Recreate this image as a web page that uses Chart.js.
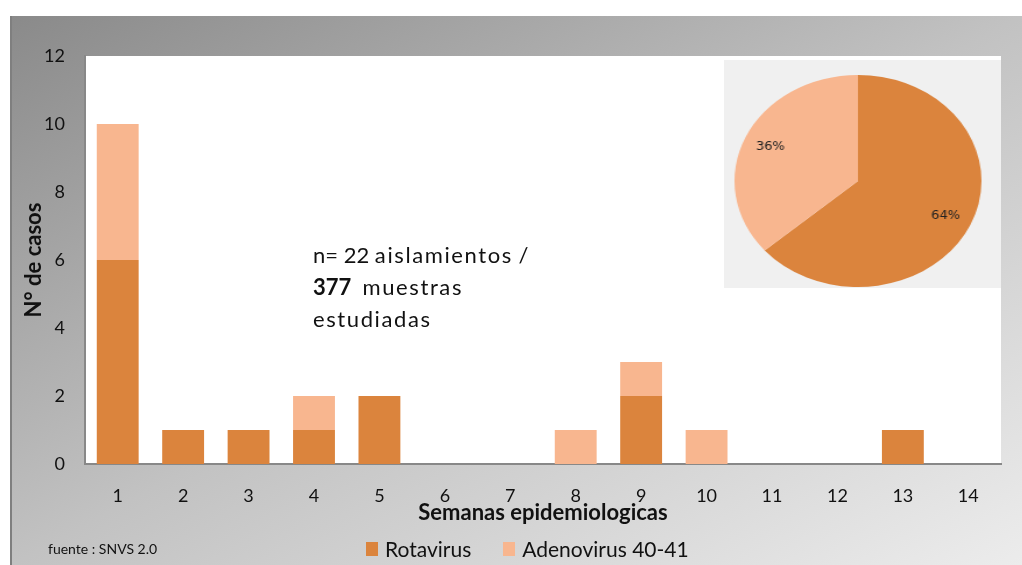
<!DOCTYPE html>
<html lang="es">
<head>
    <meta charset="UTF-8">
    <title>Rotavirus y Adenovirus por semana epidemiologica</title>
    <script src="https://cdn.jsdelivr.net/npm/chart.js"></script>
    <style>
        body { margin: 0; width: 1022px; height: 565px; position: relative; overflow: hidden; background: #fff; font-family: Lato, "Open Sans", sans-serif; color: #111; }
        .marco { position: absolute; left: 10px; top: 16px; width: 1012px; height: 549px; box-sizing: border-box;
                 background: linear-gradient(to bottom right, #8a8a8a 0%, #c2c2c2 50%, #ececec 100%);
                 border-left: 2px solid #7f7f7f; }
        #graficoSemanas { position: absolute; left: 0; top: 0; }
        .caja-torta { position: absolute; left: 724px; top: 60px; width: 277px; height: 228px; background: #f0f0f0; overflow: hidden; }
        .torta { position: absolute; left: 0; top: 0; width: 238px; height: 228px; transform: scaleX(1.165); transform-origin: 0 0; }
        .nota { position: absolute; left: 313px; top: 239px; font-size: 22px; line-height: 32px; }
        .nota .esp { letter-spacing: 1.6px; }
        .fuente { position: absolute; left: 48px; top: 540px; font-size: 14px; }
        .leyenda { position: absolute; left: 366px; top: 537px; display: flex; font-size: 21px; line-height: 24px; }
        .leyenda .item { display: flex; align-items: center; margin-right: 32px; }
        .leyenda .cuadro { width: 12px; height: 14px; margin-right: 7px; }
    </style>
</head>
<body>
    <div class="marco"></div>
    <canvas id="graficoSemanas" width="1022" height="565"></canvas>

    <!-- Torta con el total de cada virus -->
    <div class="caja-torta">
        <div class="torta"><canvas id="graficoTorta" width="238" height="228"></canvas></div>
    </div>

    <div class="nota">
        n= <span id="totalAislamientos"></span> <span class="esp">aislamientos</span> /<br>
        <b>377</b>&nbsp; <span class="esp">muestras</span><br>
        <span class="esp">estudiadas</span>
    </div>
    <div class="fuente">fuente : SNVS 2.0</div>
    <div class="leyenda" id="leyenda"></div>

    <script>
        // Datos
        const semanas = ['1', '2', '3', '4', '5', '6', '7', '8', '9', '10', '11', '12', '13', '14'];
        const rotavirus = [6, 1, 1, 1, 2, 0, 0, 0, 2, 0, 0, 0, 1, 0];
        const adenovirus = [4, 0, 0, 1, 0, 0, 0, 1, 1, 1, 0, 0, 0, 0];
        const ticksY = [0, 2, 4, 6, 8, 10, 12];
        const nombres = ['Rotavirus', 'Adenovirus 40-41'];
        const colores = ['#db843d', '#f8b68f'];

        const suma = arr => arr.reduce((a, b) => a + b, 0);
        const totales = [suma(rotavirus), suma(adenovirus)];
        document.getElementById('totalAislamientos').textContent = suma(totales);

        // Fondo blanco del area de grafico
        const fondoArea = {
            id: 'fondoArea',
            beforeDraw(chart) {
                const a = chart.chartArea;
                chart.ctx.save();
                chart.ctx.fillStyle = '#ffffff';
                chart.ctx.fillRect(a.left, a.top, a.right - a.left, a.bottom - a.top);
                chart.ctx.restore();
            }
        };

        new Chart(document.getElementById('graficoSemanas'), {
            type: 'bar',
            data: {
                labels: semanas,
                datasets: [
                    { label: nombres[0], data: rotavirus, backgroundColor: colores[0] },
                    { label: nombres[1], data: adenovirus, backgroundColor: colores[1] }
                ]
            },
            options: {
                responsive: false,
                animation: false,
                layout: { padding: { left: 0, top: 56, right: 21, bottom: 0 } },
                datasets: { bar: { categoryPercentage: 1, barPercentage: 0.64, borderWidth: 0 } },
                plugins: { legend: { display: false }, tooltip: { enabled: false } },
                scales: {
                    x: {
                        stacked: true,
                        grid: { display: false, drawTicks: false },
                        border: { display: true, color: '#888888', width: 2 },
                        ticks: { color: '#111111', padding: 21, font: { family: 'Lato', size: 18 } },
                        title: { display: true, text: 'Semanas epidemiologicas', color: '#111111',
                                 font: { family: 'Lato', size: 22, weight: 'bold' }, padding: { top: 0, bottom: 39 } },
                        afterFit: s => { s.height = 101; }
                    },
                    y: {
                        stacked: true,
                        min: 0,
                        max: 12,
                        grid: { display: false, drawTicks: false },
                        border: { display: true, color: '#888888', width: 2 },
                        ticks: { color: '#111111', padding: 20, font: { family: 'Lato', size: 18 } },
                        afterBuildTicks: s => { s.ticks = ticksY.map(v => ({ value: v })); },
                        title: { display: true, text: 'N° de casos', color: '#111111',
                                 font: { family: 'Lato', size: 22, weight: 'bold' }, padding: { top: 21, bottom: 0 } },
                        afterFit: s => { s.width = 85; }
                    }
                }
            },
            plugins: [fondoArea]
        });

        // Porcentajes dentro de la torta (el texto se dibuja sin el estiramiento horizontal)
        const estiramiento = 1.165;
        const etiquetasTorta = {
            id: 'etiquetasTorta',
            afterDatasetsDraw(chart) {
                const ctx = chart.ctx;
                const total = suma(totales);
                chart.getDatasetMeta(0).data.forEach((arco, i) => {
                    const p = arco.getProps(['x', 'y', 'startAngle', 'endAngle', 'outerRadius']);
                    const ang = (p.startAngle + p.endAngle) / 2;
                    const r = p.outerRadius * 0.78;
                    ctx.save();
                    ctx.translate(p.x + Math.cos(ang) * r, p.y + Math.sin(ang) * r);
                    ctx.scale(1 / estiramiento, 1);
                    ctx.fillStyle = '#222222';
                    ctx.font = '13px "DejaVu Sans"';
                    ctx.textAlign = 'center';
                    ctx.textBaseline = 'middle';
                    ctx.fillText(Math.round(totales[i] / total * 100) + '%', 0, 0);
                    ctx.restore();
                });
            }
        };

        new Chart(document.getElementById('graficoTorta'), {
            type: 'pie',
            data: {
                labels: nombres,
                datasets: [{ data: totales, backgroundColor: colores, borderWidth: 0 }]
            },
            options: {
                responsive: false,
                animation: false,
                layout: { padding: { left: 0, right: 8, top: 15, bottom: 1 } },
                plugins: { legend: { display: false }, tooltip: { enabled: false } }
            },
            plugins: [etiquetasTorta]
        });

        // Leyenda inferior
        const leyenda = document.getElementById('leyenda');
        nombres.forEach((n, i) => {
            const item = document.createElement('div');
            item.className = 'item';
            item.innerHTML = '<span class="cuadro" style="background:' + colores[i] + '"></span><span>' + n + '</span>';
            leyenda.appendChild(item);
        });
    </script>
</body>
</html>
